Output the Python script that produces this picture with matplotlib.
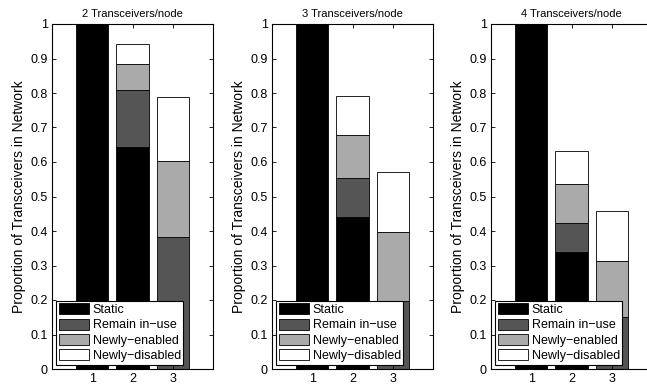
import numpy as np
import matplotlib
matplotlib.use("Agg")
import matplotlib.pyplot as plt
from matplotlib.ticker import FixedLocator, FuncFormatter

# data
titles = ["2 Transceivers/node", "3 Transceivers/node", "4 Transceivers/node"]
series = ["Static", "Remain in\u2212use", "Newly\u2212enabled", "Newly\u2212disabled"]
colours = ["#000000", "#555555", "#aaaaaa", "#ffffff"]
positions = [1, 2, 3]

# stacked segment heights per panel: rows = series, cols = bar 1..3
static = [[1.0, 0.644, 0.0], [1.0, 0.441, 0.0], [1.0, 0.339, 0.0]]
remain = [[0.0, 0.166, 0.382], [0.0, 0.113, 0.197], [0.0, 0.085, 0.152]]
enabled = [[0.0, 0.074, 0.220], [0.0, 0.125, 0.199], [0.0, 0.111, 0.162]]
disabled = [[0.0, 0.059, 0.186], [0.0, 0.112, 0.176], [0.0, 0.097, 0.145]]

plt.rcParams['font.family'] = ['Liberation Sans', 'DejaVu Sans']
plt.rcParams['font.size'] = 9

fig = plt.figure(figsize=(6.47, 3.87), dpi=100)
W, H = 647.0, 387.0
lefts = [52, 272, 491]

for i in range(3):
    ax = fig.add_axes([lefts[i] / W, (H - 369) / H, 161 / W, 345 / H])
    bottom = np.zeros(3)
    for name, vals, col in zip(series, [static[i], remain[i], enabled[i], disabled[i]], colours):
        ax.bar(positions, vals, width=0.8, bottom=bottom, color=col,
               edgecolor='black', linewidth=0.6, label=name)
        bottom = bottom + np.array(vals)
    ax.set_xlim(0, 4)
    ax.set_ylim(0, 1)
    ax.set_xticks(positions)
    ax.yaxis.set_major_locator(FixedLocator(np.arange(0, 1.01, 0.1)))
    ax.yaxis.set_major_formatter(FuncFormatter(lambda v, p: "%g" % round(v, 1)))
    ax.tick_params(direction='in', top=True, right=True, length=3, width=0.6,
                   labelsize=9, pad=3)
    for s in ax.spines.values():
        s.set_linewidth(0.8)
    ax.set_title(titles[i], fontsize=8, pad=5)
    ax.set_ylabel("Proportion of Transceivers in Network", fontsize=10, labelpad=3)
    leg = ax.legend(loc='lower left', fontsize=9, frameon=True, fancybox=False,
                    edgecolor='black', framealpha=1, borderpad=0.2, labelspacing=0.2,
                    handlelength=2.4, handleheight=1.0, handletextpad=0.3,
                    borderaxespad=0.35)
    leg.get_frame().set_linewidth(0.8)

fig.savefig("out.png", dpi=100)
